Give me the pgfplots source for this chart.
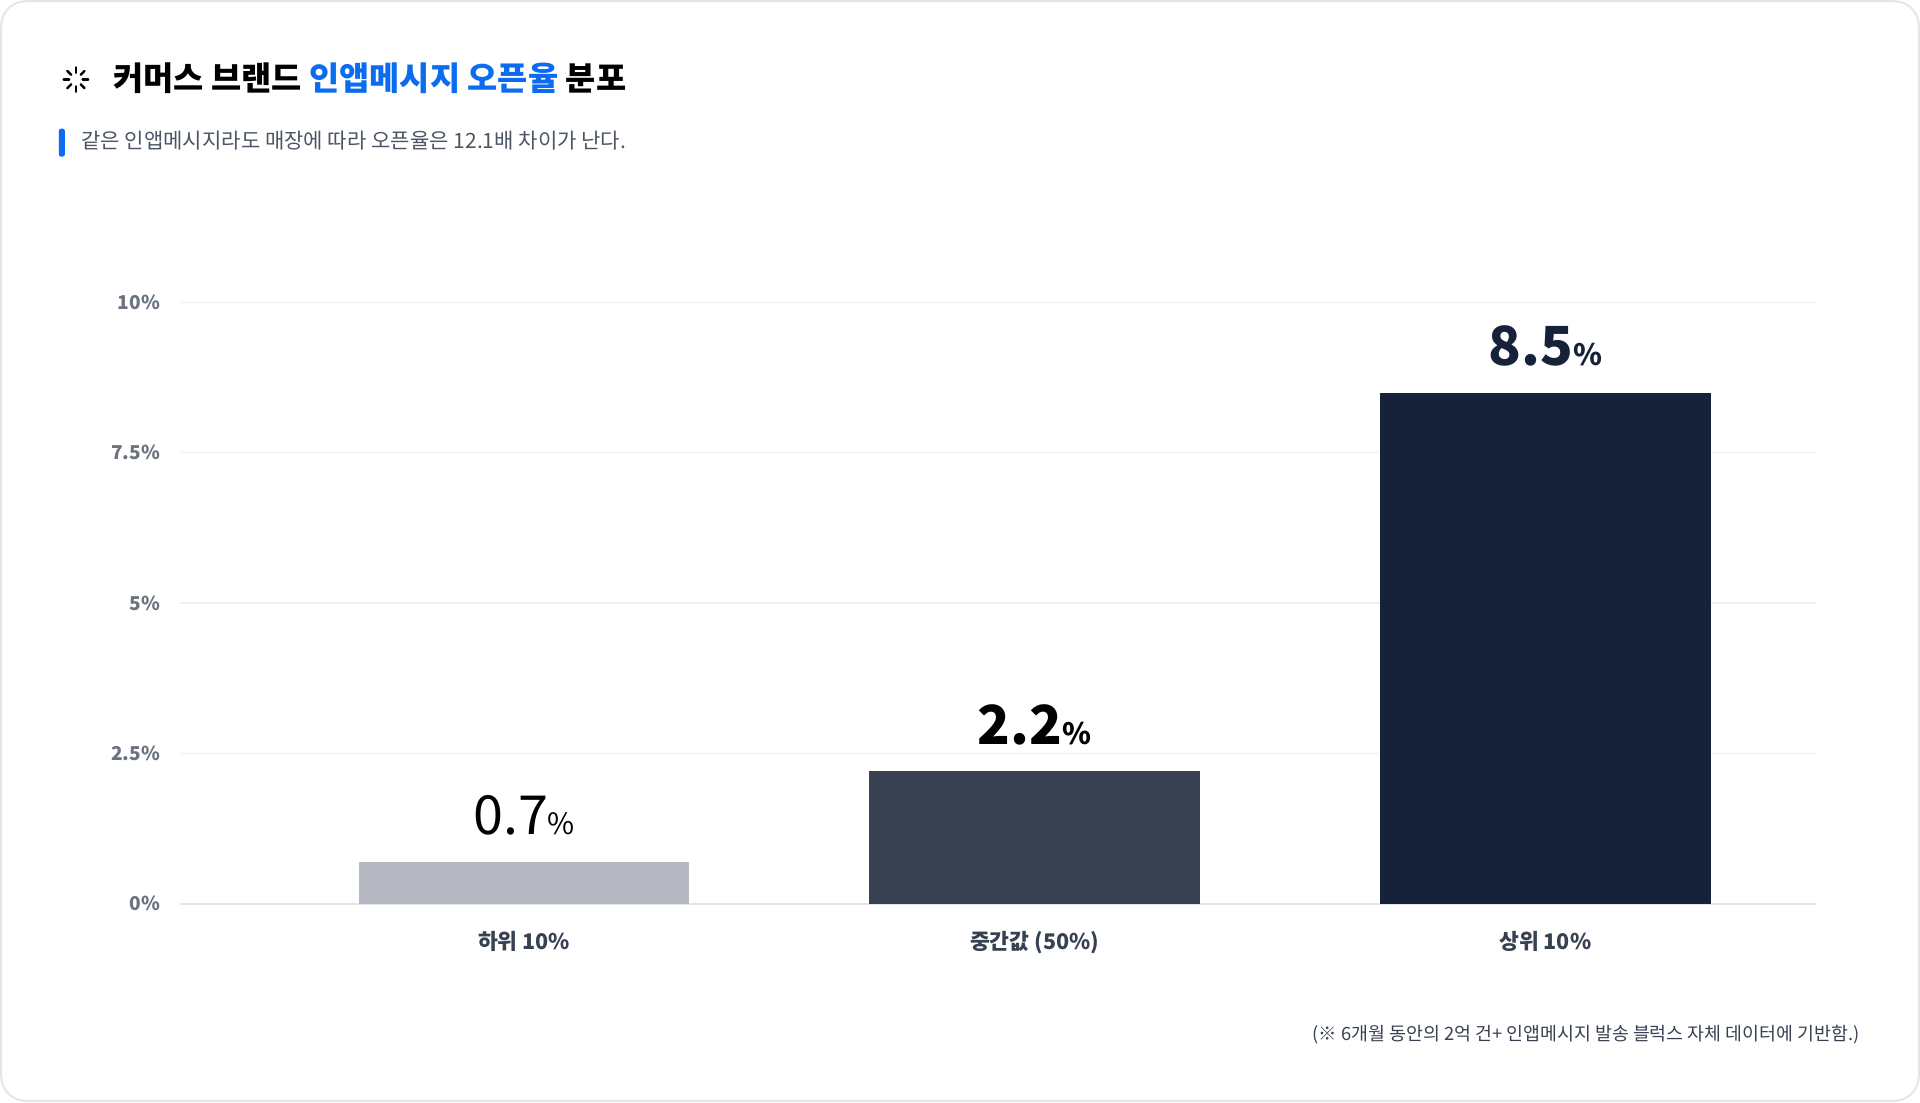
\documentclass[border=0pt]{standalone}
\usepackage{pgfplots}
\pgfplotsset{compat=1.18}
\usetikzlibrary{calc}
\usepackage{fontspec}
\setmainfont{Noto Sans CJK KR}
\definecolor{titleblue}{HTML}{0B6CF0}
\definecolor{barA}{HTML}{B6B8C2}
\definecolor{barB}{HTML}{374151}
\definecolor{barC}{HTML}{16213A}
\definecolor{gridc}{HTML}{EEEFF2}
\definecolor{axisc}{HTML}{E2E4E8}
\definecolor{tickc}{HTML}{6B7280}
\definecolor{labc}{HTML}{374151}
\definecolor{subc}{HTML}{4B5563}
\definecolor{cardc}{HTML}{E3E5E9}
\begin{document}
\begin{tikzpicture}[x=0.5pt,y=0.5pt]
\useasboundingbox (0,0) rectangle (1568,900);
\draw[cardc, line width=0.8pt, rounded corners=10pt] (1,1) rectangle (1567,899);
% icon
\foreach \a in {0,45,...,315}{
  \draw[black, line width=1pt, line cap=round] ($(62,835)+(\a:5.5)$) -- ($(62,835)+(\a:10)$);
}
\node[anchor=west, inner sep=0pt, font=\fontsize{13.4}{15}\selectfont\bfseries] at (92,836)
  {커머스 브랜드 \textcolor{titleblue}{인앱메시지 오픈율} 분포};
\fill[titleblue, rounded corners=1pt] (48,772) rectangle (53,795);
\node[anchor=west, inner sep=0pt, text=subc, font=\fontsize{8.6}{10}\selectfont] at (66,785)
  {같은 인앱메시지라도 매장에 따라 오픈율은 12.1배 차이가 난다.};
\node[anchor=east, inner sep=0pt, text=labc, font=\fontsize{7.5}{9}\selectfont] at (1519,55)
  {(※ 6개월 동안의 2억 건+ 인앱메시지 발송 블럭스 자체 데이터에 기반함.)};
\begin{axis}[
  at={(73.5pt,81pt)}, anchor=south west,
  scale only axis, width=668pt, height=245.5pt,
  xmin=-0.674, xmax=2.530, ymin=0, ymax=10,
  axis line style={draw=none},
  major tick length=0pt,
  ytick={0,2.5,5,7.5,10},
  yticklabels={0\%,2.5\%,5\%,7.5\%,10\%},
  yticklabel style={inner sep=0pt, xshift=-8pt, text=tickc, font=\fontsize{7.8}{9}\selectfont\bfseries},
  xtick={0,1,2},
  xticklabels={하위 10\%,중간값 (50\%),상위 10\%},
  xticklabel style={inner sep=0pt, yshift=-11pt, text=labc, font=\fontsize{8.8}{10}\selectfont\bfseries},
  ymajorgrids, grid style={gridc, line width=0.5pt},
  clip=false,
]
\draw[axisc, line width=0.7pt] (axis cs:-0.674,0) -- (axis cs:2.530,0);
\addplot[ybar, bar width=135pt, fill=barA, draw=none,
  nodes near coords={0.7{\fontsize{12}{12}\selectfont\%}},
  every node near coord/.style={anchor=base, inner sep=0pt, yshift=11pt, text=black, font=\fontsize{22}{24}\selectfont}]
  coordinates {(0,0.7)};
\addplot[ybar, bar width=135pt, fill=barB, draw=none,
  nodes near coords={2.2{\fontsize{12}{12}\selectfont\%}},
  every node near coord/.style={anchor=base, inner sep=0pt, yshift=11pt, text=black, font=\fontsize{22}{24}\selectfont\bfseries}]
  coordinates {(1,2.2)};
\addplot[ybar, bar width=135pt, fill=barC, draw=none,
  nodes near coords={8.5{\fontsize{12}{12}\selectfont\%}},
  every node near coord/.style={anchor=base, inner sep=0pt, yshift=11pt, text=barC, font=\fontsize{22}{24}\selectfont\bfseries}]
  coordinates {(2,8.5)};
\end{axis}
\end{tikzpicture}
\end{document}
